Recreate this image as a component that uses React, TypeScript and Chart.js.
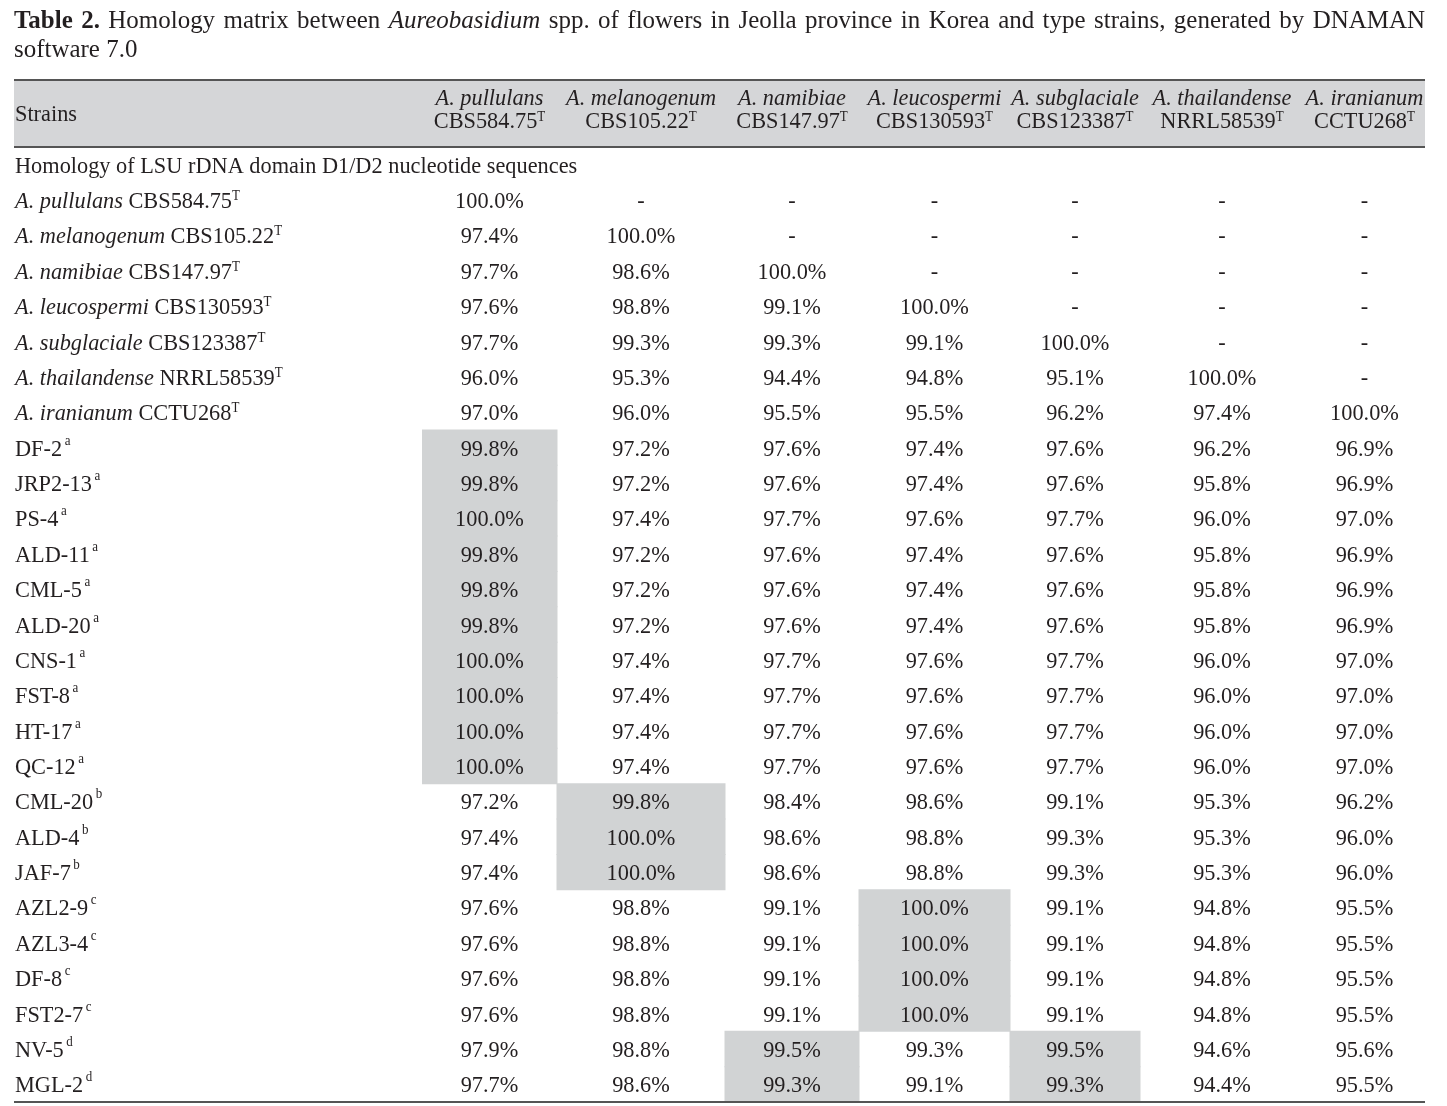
import React, { useEffect, useRef } from "react";
import { Chart, registerables } from "chart.js";

Chart.register(...registerables);

// ---------- DATA ----------
const titleWords = [
  "Homology", "matrix", "between", "Aureobasidium", "spp.", "of", "flowers", "in", "Jeolla",
  "province", "in", "Korea", "and", "type", "strains,", "generated", "by", "DNAMAN",
];
const titleItalicWords = ["Aureobasidium"];
const titleTail = "software 7.0";
const tableNumber = ["Table", "2."];

const headerFirst = "Strains";
const columnSpecies = [
  "A. pullulans", "A. melanogenum", "A. namibiae", "A. leucospermi",
  "A. subglaciale", "A. thailandense", "A. iranianum",
];
const columnStrains = [
  "CBS584.75", "CBS105.22", "CBS147.97", "CBS130593", "CBS123387", "NRRL58539", "CCTU268",
];

const sectionLabel = "Homology of LSU rDNA domain D1/D2 nucleotide sequences";

const rowSpecies = [
  "A. pullulans", "A. melanogenum", "A. namibiae", "A. leucospermi", "A. subglaciale",
  "A. thailandense", "A. iranianum",
  "", "", "", "", "", "", "", "", "", "",
  "", "", "",
  "", "", "", "",
  "", "",
];
const rowStrains = [
  "CBS584.75", "CBS105.22", "CBS147.97", "CBS130593", "CBS123387", "NRRL58539", "CCTU268",
  "DF-2", "JRP2-13", "PS-4", "ALD-11", "CML-5", "ALD-20", "CNS-1", "FST-8", "HT-17", "QC-12",
  "CML-20", "ALD-4", "JAF-7",
  "AZL2-9", "AZL3-4", "DF-8", "FST2-7",
  "NV-5", "MGL-2",
];
const rowSup = [
  "T", "T", "T", "T", "T", "T", "T",
  "a", "a", "a", "a", "a", "a", "a", "a", "a", "a",
  "b", "b", "b",
  "c", "c", "c", "c",
  "d", "d",
];

const pullulans = [100.0, 97.4, 97.7, 97.6, 97.7, 96.0, 97.0, 99.8, 99.8, 100.0, 99.8, 99.8, 99.8, 100.0, 100.0, 100.0, 100.0, 97.2, 97.4, 97.4, 97.6, 97.6, 97.6, 97.6, 97.9, 97.7];
const melanogenum = [null, 100.0, 98.6, 98.8, 99.3, 95.3, 96.0, 97.2, 97.2, 97.4, 97.2, 97.2, 97.2, 97.4, 97.4, 97.4, 97.4, 99.8, 100.0, 100.0, 98.8, 98.8, 98.8, 98.8, 98.8, 98.6];
const namibiae = [null, null, 100.0, 99.1, 99.3, 94.4, 95.5, 97.6, 97.6, 97.7, 97.6, 97.6, 97.6, 97.7, 97.7, 97.7, 97.7, 98.4, 98.6, 98.6, 99.1, 99.1, 99.1, 99.1, 99.5, 99.3];
const leucospermi = [null, null, null, 100.0, 99.1, 94.8, 95.5, 97.4, 97.4, 97.6, 97.4, 97.4, 97.4, 97.6, 97.6, 97.6, 97.6, 98.6, 98.8, 98.8, 100.0, 100.0, 100.0, 100.0, 99.3, 99.1];
const subglaciale = [null, null, null, null, 100.0, 95.1, 96.2, 97.6, 97.6, 97.7, 97.6, 97.6, 97.6, 97.7, 97.7, 97.7, 97.7, 99.1, 99.3, 99.3, 99.1, 99.1, 99.1, 99.1, 99.5, 99.3];
const thailandense = [null, null, null, null, null, 100.0, 97.4, 96.2, 95.8, 96.0, 95.8, 95.8, 95.8, 96.0, 96.0, 96.0, 96.0, 95.3, 95.3, 95.3, 94.8, 94.8, 94.8, 94.8, 94.6, 94.4];
const iranianum = [null, null, null, null, null, null, 100.0, 96.9, 96.9, 97.0, 96.9, 96.9, 96.9, 97.0, 97.0, 97.0, 97.0, 96.2, 96.0, 96.0, 95.5, 95.5, 95.5, 95.5, 95.6, 95.5];

// best-matching type strain column(s) for each row (highlighted cells)
const bestMatch: number[][] = [
  [], [], [], [], [], [], [],
  [0], [0], [0], [0], [0], [0], [0], [0], [0], [0],
  [1], [1], [1],
  [3], [3], [3], [3],
  [2, 4], [2, 4],
];

// ---------- LAYOUT / STYLE ----------
const W = 1447;
const H = 1106;
const TABLE_LEFT = 14;
const TABLE_RIGHT = 1425;
const LABEL_X = 15;
const HEADER_H = 67;
const COL_WIDTHS = [135, 168, 134, 151, 130, 164, 121];
const FAMILY = '"Liberation Serif", "Times New Roman", serif';
const TEXT = "#231f20";
const GRAY = "#d1d3d4";
const HEADER_BG = "#d5d6d8";
const RULE = "#555555";
const SX = 0.93; // horizontal condensation of body type
const TSX = 0.96; // horizontal condensation of title type
const FS = 24;
const F_ROM = `${FS}px ${FAMILY}`;
const F_IT = `italic ${FS}px ${FAMILY}`;
const F_SUP = `14px ${FAMILY}`;
const F_TITLE = `26px ${FAMILY}`;
const F_TITLE_B = `bold 26px ${FAMILY}`;
const F_TITLE_I = `italic 26px ${FAMILY}`;

const columns = [pullulans, melanogenum, namibiae, leucospermi, subglaciale, thailandense, iranianum];
const colEdges: number[] = [0];
COL_WIDTHS.forEach((w, i) => colEdges.push(colEdges[i] + w));
const rowKeys = rowStrains.map((s, i) => (rowSpecies[i] ? `${rowSpecies[i]} ${s}` : s));
const yLabels = [sectionLabel, ...rowKeys];

type Part = { text: string; font: string; dy?: number };

function drawParts(
  ctx: CanvasRenderingContext2D, parts: Part[], x: number, y: number,
  align: "left" | "center", sx: number = SX,
) {
  let total = 0;
  const widths = parts.map((p) => {
    ctx.font = p.font;
    const w = ctx.measureText(p.text).width;
    total += w;
    return w;
  });
  const start = align === "center" ? x - (total * sx) / 2 : x;
  ctx.save();
  ctx.translate(start, y);
  ctx.scale(sx, 1);
  let cx = 0;
  parts.forEach((p, i) => {
    ctx.font = p.font;
    ctx.fillText(p.text, cx, p.dy || 0);
    cx += widths[i];
  });
  ctx.restore();
}

const tablePlugin = {
  id: "tablePlugin",
  beforeDatasetsDraw(chart: any) {
    const { ctx, chartArea } = chart;
    ctx.save();
    ctx.fillStyle = HEADER_BG;
    ctx.fillRect(TABLE_LEFT, chartArea.top - HEADER_H, TABLE_RIGHT - TABLE_LEFT, HEADER_H);
    ctx.restore();
  },
  afterDatasetsDraw(chart: any) {
    const { ctx, chartArea, scales } = chart;
    const xs = scales.x;
    const ys = scales.y;
    const headTop = chartArea.top - HEADER_H;
    ctx.save();
    ctx.fillStyle = TEXT;
    ctx.textBaseline = "alphabetic";
    ctx.textAlign = "left";

    // rules
    ctx.strokeStyle = RULE;
    ctx.lineWidth = 2;
    [headTop, chartArea.top, chartArea.bottom].forEach((y: number) => {
      ctx.beginPath();
      ctx.moveTo(TABLE_LEFT, y);
      ctx.lineTo(TABLE_RIGHT, y);
      ctx.stroke();
    });

    // title (justified first line)
    const pieces: Part[] = [
      ...tableNumber.map((t) => ({ text: t, font: F_TITLE_B })),
      ...titleWords.map((w) => ({ text: w, font: titleItalicWords.includes(w) ? F_TITLE_I : F_TITLE })),
    ];
    let wordsW = 0;
    const pw = pieces.map((p) => {
      ctx.font = p.font;
      const w = ctx.measureText(p.text).width * TSX;
      wordsW += w;
      return w;
    });
    const gap = (TABLE_RIGHT - TABLE_LEFT - wordsW) / (pieces.length - 1);
    let tx = TABLE_LEFT;
    pieces.forEach((p, i) => {
      drawParts(ctx, [p], tx, 28, "left", TSX);
      tx += pw[i] + gap;
    });
    drawParts(ctx, [{ text: titleTail, font: F_TITLE }], TABLE_LEFT, 57, "left", TSX);

    // header
    drawParts(ctx, [{ text: headerFirst, font: F_ROM }], LABEL_X, headTop + 41, "left");
    columnSpecies.forEach((sp, c) => {
      const cx = xs.getPixelForValue((colEdges[c] + colEdges[c + 1]) / 2);
      drawParts(ctx, [{ text: sp, font: F_IT }], cx, headTop + 25, "center");
      drawParts(ctx, [{ text: columnStrains[c], font: F_ROM }, { text: "T", font: F_SUP, dy: -7 }], cx, headTop + 48, "center");
    });

    // section row
    const y0 = ys.getPixelForValue(0) + 8;
    drawParts(ctx, [{ text: sectionLabel, font: F_ROM }], LABEL_X, y0, "left");

    // body rows
    rowKeys.forEach((_, r) => {
      const y = ys.getPixelForValue(r + 1) + 8;
      const parts: Part[] = [];
      if (rowSpecies[r]) {
        parts.push({ text: rowSpecies[r] + " ", font: F_IT });
        parts.push({ text: rowStrains[r], font: F_ROM });
        parts.push({ text: rowSup[r], font: F_SUP, dy: -8 });
      } else {
        parts.push({ text: rowStrains[r], font: F_ROM });
        parts.push({ text: " ", font: `11px ${FAMILY}` });
        parts.push({ text: rowSup[r], font: F_SUP, dy: -11 });
      }
      drawParts(ctx, parts, LABEL_X, y, "left");
      columns.forEach((col, c) => {
        const v = col[r];
        const cx = xs.getPixelForValue((colEdges[c] + colEdges[c + 1]) / 2);
        const t = v === null ? "-" : `${(v as number).toFixed(1)}%`;
        drawParts(ctx, [{ text: t, font: F_ROM }], cx, y, "center");
      });
    });
    ctx.restore();
  },
};

export default function App() {
  const ref = useRef<HTMLCanvasElement | null>(null);
  useEffect(() => {
    document.body.style.margin = "0";
    const canvas = ref.current;
    if (!canvas) return;
    const datasets = COL_WIDTHS.map((_, c) => ({
      label: columnSpecies[c],
      data: [null, ...bestMatch.map((m) => (m.includes(c) ? [colEdges[c], colEdges[c + 1]] : null))],
      backgroundColor: GRAY,
      borderWidth: 0,
      grouped: false,
      categoryPercentage: 1,
      barPercentage: 1,
      inflateAmount: 0.5,
    }));
    const chart = new Chart(canvas, {
      type: "bar",
      data: { labels: yLabels, datasets: datasets as any },
      options: {
        indexAxis: "y",
        animation: false,
        responsive: false,
        devicePixelRatio: 1,
        layout: { padding: { left: 422, right: W - TABLE_RIGHT, top: 147, bottom: 4 } },
        plugins: { legend: { display: false }, tooltip: { enabled: false }, title: { display: false } },
        scales: {
          x: { type: "linear", min: 0, max: colEdges[colEdges.length - 1], display: false },
          y: { type: "category", display: false, offset: true },
        },
      },
      plugins: [tablePlugin],
    });
    return () => chart.destroy();
  }, []);
  return (
    <div style={{ width: W, height: H, background: "#fff" }}>
      <canvas ref={ref} width={W} height={H} style={{ display: "block" }} />
    </div>
  );
}
